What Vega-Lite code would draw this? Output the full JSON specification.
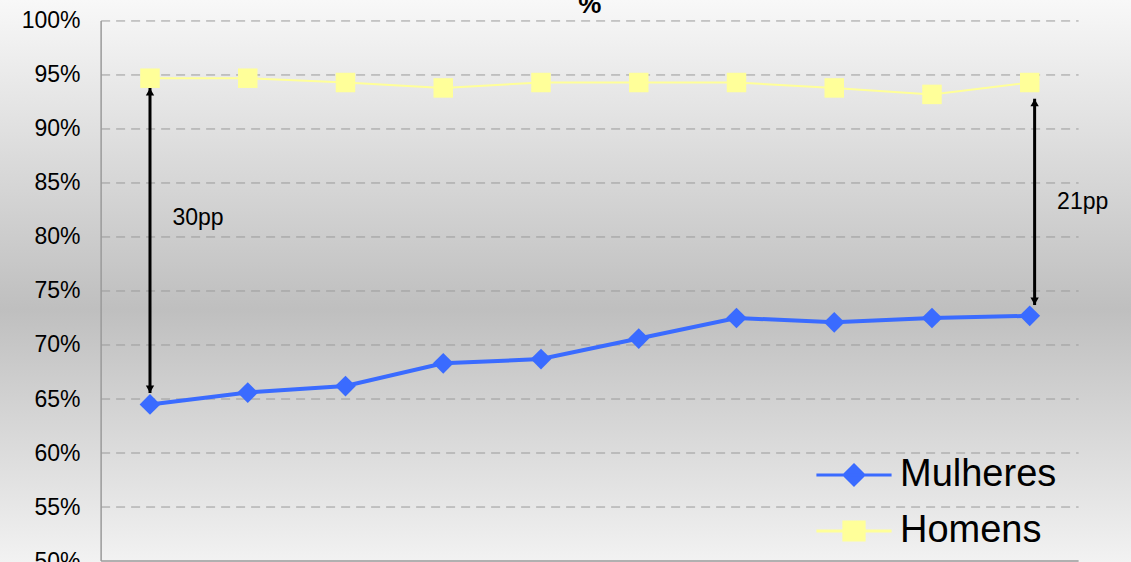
{
  "$schema": "https://vega.github.io/schema/vega-lite/v6.json",
  "width": 1131,
  "height": 562,
  "autosize": {"type": "none"},
  "padding": 0,
  "background": "#d8d8d8",
  "config": {
    "view": {
      "stroke": null,
      "fill": {"gradient": "linear", "x1": 0, "y1": 0, "x2": 0, "y2": 1, "stops": [
        {"offset": 0, "color": "#f8f8f8"},
        {"offset": 0.55, "color": "#bfbfbf"},
        {"offset": 1, "color": "#f2f2f2"}
      ]}
    },
    "font": "Liberation Sans",
    "legend": {
      "orient": "none", "legendX": 830, "legendY": 451, "title": null, "padding": 0,
      "labelFontSize": 38, "labelFont": "Liberation Sans", "labelColor": "#000000",
      "labelOffset": 22, "symbolSize": 2025, "rowPadding": 13, "symbolOpacity": 1, "symbolStrokeWidth": 3
    }
  },
  "datasets": {
    "series": [
      {"ano": 1, "serie": "Mulheres", "valor": 64.5},
      {"ano": 2, "serie": "Mulheres", "valor": 65.6},
      {"ano": 3, "serie": "Mulheres", "valor": 66.2},
      {"ano": 4, "serie": "Mulheres", "valor": 68.3},
      {"ano": 5, "serie": "Mulheres", "valor": 68.7},
      {"ano": 6, "serie": "Mulheres", "valor": 70.6},
      {"ano": 7, "serie": "Mulheres", "valor": 72.5},
      {"ano": 8, "serie": "Mulheres", "valor": 72.1},
      {"ano": 9, "serie": "Mulheres", "valor": 72.5},
      {"ano": 10, "serie": "Mulheres", "valor": 72.7},
      {"ano": 1, "serie": "Homens", "valor": 94.7},
      {"ano": 2, "serie": "Homens", "valor": 94.7},
      {"ano": 3, "serie": "Homens", "valor": 94.3},
      {"ano": 4, "serie": "Homens", "valor": 93.8},
      {"ano": 5, "serie": "Homens", "valor": 94.3},
      {"ano": 6, "serie": "Homens", "valor": 94.3},
      {"ano": 7, "serie": "Homens", "valor": 94.3},
      {"ano": 8, "serie": "Homens", "valor": 93.8},
      {"ano": 9, "serie": "Homens", "valor": 93.2},
      {"ano": 10, "serie": "Homens", "valor": 94.3}
    ],
    "grid": [
      {"v": 55}, {"v": 60}, {"v": 65}, {"v": 70}, {"v": 75},
      {"v": 80}, {"v": 85}, {"v": 90}, {"v": 95}, {"v": 100}
    ],
    "arrows": [
      {"x": 1, "top": 93.8, "bottom": 65.55, "label": "30pp", "lx": 1.23, "ly": 81.8},
      {"x": 10.05, "top": 92.8, "bottom": 73.7, "label": "21pp", "lx": 10.28, "ly": 83.2}
    ],
    "titulo": [{"t": "%", "x": 5.5, "y": 100.74}]
  },
  "encoding": {
    "x": {"type": "quantitative", "scale": {"domain": [-0.5345, 11.036], "nice": false, "zero": false}, "axis": null},
    "y": {"type": "quantitative", "scale": {"domain": [49.91, 101.94], "nice": false, "zero": false}}
  },
  "layer": [
    {
      "data": {"name": "grid"},
      "mark": {"type": "rule", "color": "#9a9a9a", "strokeWidth": 1, "strokeDash": [9, 6]},
      "encoding": {
        "x": {"datum": 0.5},
        "x2": {"datum": 10.5},
        "y": {"field": "v", "type": "quantitative", "axis": {
          "values": [50, 55, 60, 65, 70, 75, 80, 85, 90, 95, 100],
          "labelExpr": "datum.value + '%'",
          "offset": -101, "domain": false, "ticks": false, "grid": false,
          "labelFontSize": 23, "labelColor": "#000000", "labelPadding": 21,
          "labelFont": "Liberation Sans", "title": null
        }}
      }
    },
    {
      "data": {"values": [{"a": 1}]},
      "mark": {"type": "rule", "color": "#9a9a9a", "strokeWidth": 1.5},
      "encoding": {"x": {"datum": 0.5}, "y": {"datum": 50}, "y2": {"datum": 100}}
    },
    {
      "data": {"values": [{"a": 1}]},
      "mark": {"type": "rule", "color": "#9a9a9a", "strokeWidth": 1.5},
      "encoding": {"x": {"datum": 0.5}, "x2": {"datum": 10.5}, "y": {"datum": 50}}
    },
    {
      "data": {"name": "titulo"},
      "mark": {"type": "text", "align": "center", "baseline": "alphabetic", "fontSize": 26, "fontWeight": "bold", "font": "Liberation Sans", "color": "#000000"},
      "encoding": {"x": {"field": "x", "type": "quantitative"}, "y": {"field": "y", "type": "quantitative"}, "text": {"field": "t"}}
    },
    {
      "data": {"name": "arrows"},
      "mark": {"type": "rule", "color": "#000000", "strokeWidth": 3},
      "encoding": {"x": {"field": "x", "type": "quantitative"}, "y": {"field": "top", "type": "quantitative"}, "y2": {"field": "bottom"}}
    },
    {
      "data": {"name": "arrows"},
      "mark": {"type": "point", "shape": "triangle-up", "filled": true, "color": "#000000", "size": 70, "opacity": 1, "yOffset": 4},
      "encoding": {"x": {"field": "x", "type": "quantitative"}, "y": {"field": "top", "type": "quantitative"}}
    },
    {
      "data": {"name": "arrows"},
      "mark": {"type": "point", "shape": "triangle-down", "filled": true, "color": "#000000", "size": 70, "opacity": 1, "yOffset": -4},
      "encoding": {"x": {"field": "x", "type": "quantitative"}, "y": {"field": "bottom", "type": "quantitative"}}
    },
    {
      "data": {"name": "arrows"},
      "mark": {"type": "text", "align": "left", "baseline": "middle", "fontSize": 23, "font": "Liberation Sans", "color": "#000000"},
      "encoding": {"x": {"field": "lx", "type": "quantitative"}, "y": {"field": "ly", "type": "quantitative"}, "text": {"field": "label"}}
    },
    {
      "data": {"name": "series"},
      "mark": {"type": "line"},
      "encoding": {
        "x": {"field": "ano", "type": "quantitative"},
        "y": {"field": "valor", "type": "quantitative"},
        "detail": {"field": "serie", "type": "nominal"},
        "color": {"condition": {"test": "datum.serie == 'Mulheres'", "value": "#3a6bff"}, "value": "#ffff99"},
        "strokeWidth": {"condition": {"test": "datum.serie == 'Mulheres'", "value": 4}, "value": 2}
      }
    },
    {
      "data": {"name": "series"},
      "mark": {"type": "point", "filled": true, "opacity": 1},
      "encoding": {
        "x": {"field": "ano", "type": "quantitative"},
        "y": {"field": "valor", "type": "quantitative"},
        "color": {"condition": {"test": "datum.serie == 'Mulheres'", "value": "#3a6bff"}, "value": "#ffff99"},
        "shape": {"condition": {"test": "datum.serie == 'Mulheres'", "value": "diamond"}, "value": "square"},
        "size": {"condition": {"test": "datum.serie == 'Mulheres'", "value": 430}, "value": 380}
      }
    },
    {
      "data": {"name": "series"},
      "transform": [{"filter": "false"}],
      "mark": {"type": "point", "opacity": 1},
      "encoding": {
        "x": {"field": "ano", "type": "quantitative"},
        "y": {"field": "valor", "type": "quantitative"},
        "fill": {"field": "serie", "type": "nominal", "scale": {"domain": ["Mulheres", "Homens"], "range": ["#3a6bff", "#ffff99"]}},
        "stroke": {"field": "serie", "type": "nominal", "scale": {"domain": ["Mulheres", "Homens"], "range": ["#3a6bff", "#ffff99"]}},
        "shape": {"field": "serie", "type": "nominal", "scale": {"domain": ["Mulheres", "Homens"], "range": ["M-1.67,0H1.67M0,-0.44L0.44,0L0,0.44L-0.44,0Z", "M-1.67,0H1.67M-0.45,-0.4H0.45V0.4H-0.45Z"]}}
      }
    }
  ]
}
